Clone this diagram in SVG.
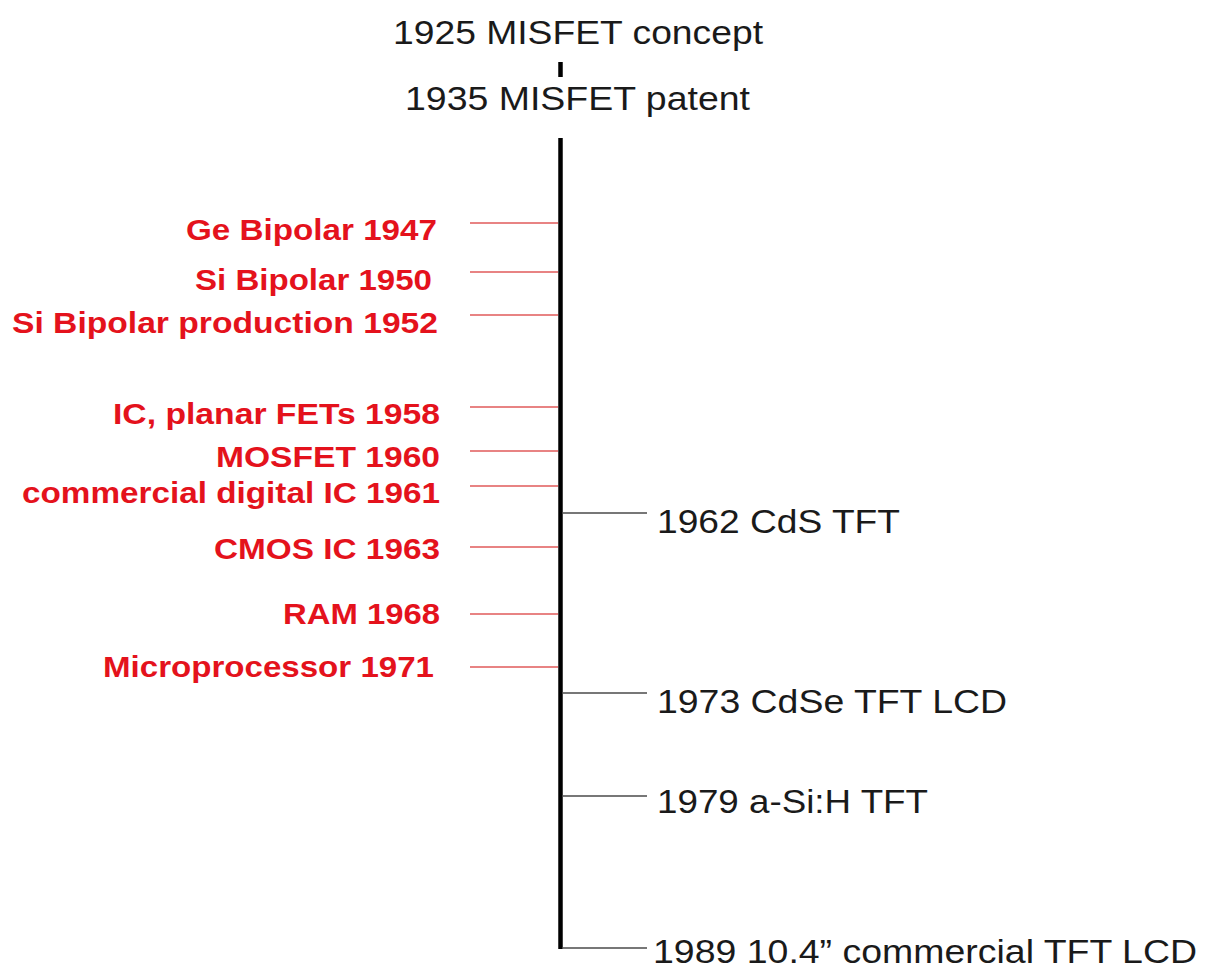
<svg xmlns="http://www.w3.org/2000/svg" width="1216" height="973" viewBox="0 0 1216 973">
<style>
.blk{font-family:"Liberation Sans",Arial,sans-serif;font-size:34px;fill:#1a1a1a}
.red{font-family:"Liberation Sans",Arial,sans-serif;font-size:29px;font-weight:bold;fill:#e4121c}
.rl{stroke:#e05a5a;stroke-width:1.6;fill:none}
.gl{stroke:#4a4a4a;stroke-width:1.6;fill:none}
.axis{stroke:#000;stroke-width:4.5;fill:none}
</style>
<rect width="1216" height="973" fill="#fff"/>
<g id="connectors">
<line class="axis" x1="560.5" y1="62" x2="560.5" y2="77"/>
<line class="axis" x1="560.5" y1="138" x2="560.5" y2="949"/>
<line class="rl" x1="470" y1="223" x2="558" y2="223"/>
<line class="rl" x1="470" y1="272" x2="558" y2="272"/>
<line class="rl" x1="470" y1="315" x2="558" y2="315"/>
<line class="rl" x1="470" y1="407" x2="558" y2="407"/>
<line class="rl" x1="470" y1="451" x2="558" y2="451"/>
<line class="rl" x1="470" y1="486" x2="558" y2="486"/>
<line class="rl" x1="470" y1="547" x2="558" y2="547"/>
<line class="rl" x1="470" y1="614" x2="558" y2="614"/>
<line class="rl" x1="470" y1="667" x2="558" y2="667"/>
<line class="gl" x1="562" y1="513" x2="647" y2="513"/>
<line class="gl" x1="562" y1="693" x2="647" y2="693"/>
<line class="gl" x1="562" y1="796" x2="647" y2="796"/>
<line class="gl" x1="562" y1="948" x2="647" y2="948"/>
</g>
<g id="n1925"><text class="blk" x="393" y="44" textLength="370" lengthAdjust="spacingAndGlyphs">1925 MISFET concept</text></g>
<g id="n1935"><text class="blk" x="405" y="110" textLength="345" lengthAdjust="spacingAndGlyphs">1935 MISFET patent</text></g>
<g id="n1947"><text class="red" x="186" y="240" textLength="251" lengthAdjust="spacingAndGlyphs">Ge Bipolar 1947</text></g>
<g id="n1950"><text class="red" x="195" y="290" textLength="237" lengthAdjust="spacingAndGlyphs">Si Bipolar 1950</text></g>
<g id="n1952"><text class="red" x="12" y="333" textLength="426" lengthAdjust="spacingAndGlyphs">Si Bipolar production 1952</text></g>
<g id="n1958"><text class="red" x="113" y="424" textLength="327" lengthAdjust="spacingAndGlyphs">IC, planar FETs 1958</text></g>
<g id="n1960"><text class="red" x="216" y="467" textLength="224" lengthAdjust="spacingAndGlyphs">MOSFET 1960</text></g>
<g id="n1961"><text class="red" x="22" y="503" textLength="418" lengthAdjust="spacingAndGlyphs">commercial digital IC 1961</text></g>
<g id="n1963"><text class="red" x="214" y="559" textLength="226" lengthAdjust="spacingAndGlyphs">CMOS IC 1963</text></g>
<g id="n1968"><text class="red" x="283" y="624" textLength="157" lengthAdjust="spacingAndGlyphs">RAM 1968</text></g>
<g id="n1971"><text class="red" x="103" y="677" textLength="331" lengthAdjust="spacingAndGlyphs">Microprocessor 1971</text></g>
<g id="n1962"><text class="blk" x="657" y="533" textLength="243" lengthAdjust="spacingAndGlyphs">1962 CdS TFT</text></g>
<g id="n1973"><text class="blk" x="657" y="713" textLength="350" lengthAdjust="spacingAndGlyphs">1973 CdSe TFT LCD</text></g>
<g id="n1979"><text class="blk" x="657" y="813" textLength="271" lengthAdjust="spacingAndGlyphs">1979 a-Si:H TFT</text></g>
<g id="n1989"><text class="blk" x="653" y="963" textLength="544" lengthAdjust="spacingAndGlyphs">1989 10.4” commercial TFT LCD</text></g>
</svg>
